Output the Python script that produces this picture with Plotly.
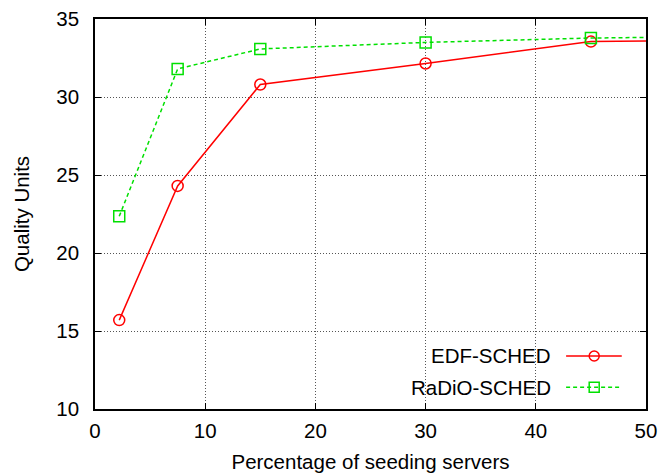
import plotly.graph_objects as go

# Data
x_vals = [2.2, 7.5, 15, 30, 45, 60]
edf_sched = [15.7, 24.3, 30.8, 32.15, 33.55, 33.65]
radio_sched = [22.35, 31.8, 33.08, 33.5, 33.78, 33.9]
series_names = ["EDF-SCHED", "RaDiO-SCHED"]
x_ticks = [0, 10, 20, 30, 40, 50]
y_ticks = [10, 15, 20, 25, 30, 35]

FONT = "Liberation Sans, Arial, Helvetica, sans-serif"
RED = "#ff0000"
GREEN = "#00e000"
FS = 20.5

fig = go.Figure()
fig.add_trace(go.Scatter(
    x=x_vals, y=edf_sched, name=series_names[0], mode="lines+markers",
    line=dict(color=RED, width=1.5),
    marker=dict(symbol="circle-open", size=11, color=RED, line=dict(width=1.5)),
    cliponaxis=True, showlegend=False))
fig.add_trace(go.Scatter(
    x=x_vals, y=radio_sched, name=series_names[1], mode="lines+markers",
    line=dict(color=GREEN, width=1.5, dash="4px,3px"),
    marker=dict(symbol="square-open", size=11, color=GREEN, line=dict(width=1.5)),
    cliponaxis=True, showlegend=False))

axis_common = dict(
    showline=True, linecolor="black", linewidth=1.5, mirror="ticks",
    ticks="inside", ticklen=6, tickcolor="black", tickwidth=1,
    showgrid=True, gridcolor="#555555", griddash="1px,2px", gridwidth=1,
    zeroline=False, tickfont=dict(family=FONT, size=FS, color="black"),
    automargin=False,
)

fig.update_xaxes(range=[0, 50], tickvals=x_ticks, ticktext=[str(v) for v in x_ticks],
                 title=dict(text="Percentage of seeding servers",
                            font=dict(family=FONT, size=FS, color="black"), standoff=13),
                 ticklabelstandoff=3, **axis_common)
fig.update_yaxes(range=[10, 35], tickvals=y_ticks, ticktext=[str(v) for v in y_ticks],
                 title=dict(text="Quality Units",
                            font=dict(family=FONT, size=FS, color="black"), standoff=21),
                 ticklabelstandoff=10, **axis_common)

# gnuplot-style key: text right-aligned, sample to its right
key_rows = [(series_names[0], RED, "solid", "circle", 0.136),
            (series_names[1], GREEN, "4px,3px", "rect", 0.056)]
shapes = []
annotations = []
for name, col, dash, sym, yy in key_rows:
    annotations.append(dict(x=0.831, y=yy, xref="paper", yref="paper", text=name,
                            showarrow=False, xanchor="right", yanchor="middle",
                            font=dict(family=FONT, size=FS, color="black")))
    shapes.append(dict(type="line", xref="paper", yref="paper", x0=0.855, x1=0.956,
                       y0=yy, y1=yy, line=dict(color=col, width=1.5, dash=dash)))
    shapes.append(dict(type=sym, xref="paper", yref="paper", xsizemode="pixel",
                       ysizemode="pixel", xanchor=0.906, yanchor=yy,
                       x0=-5, x1=5, y0=-5, y1=5,
                       line=dict(color=col, width=1.5), fillcolor="rgba(0,0,0,0)"))

fig.update_layout(
    width=662, height=474,
    margin=dict(l=95, r=16, t=19, b=65),
    paper_bgcolor="white", plot_bgcolor="white",
    font=dict(family=FONT, size=FS, color="black"),
    shapes=shapes, annotations=annotations,
)

fig.write_html("out.html", config={"displayModeBar": False},
               post_script="document.body.style.margin='0';document.body.style.overflow='hidden';")
